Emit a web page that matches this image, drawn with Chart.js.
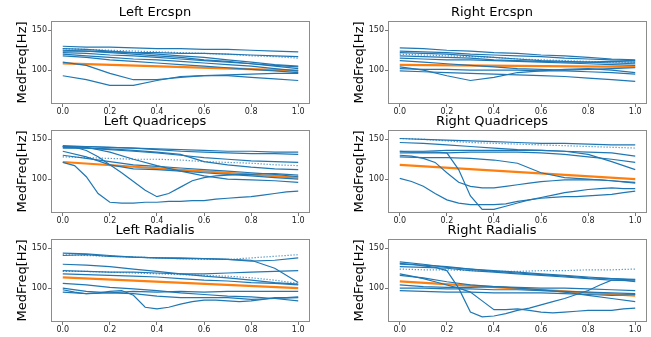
<!DOCTYPE html>
<html><head><meta charset="utf-8">
<script src="https://cdn.jsdelivr.net/npm/chart.js@4/dist/chart.umd.min.js"></script>
<style>
html,body{margin:0;padding:0;background:#fff;width:651px;height:337px;overflow:hidden;position:relative}
.cell{position:absolute}
</style></head><body>
<script>
// ---- data ----
const X11 = [0,0.1,0.2,0.3,0.4,0.5,0.6,0.7,0.8,0.9,1.0];
const X21 = [0,0.05,0.1,0.15,0.2,0.25,0.3,0.35,0.4,0.45,0.5,0.55,0.6,0.65,0.7,0.75,0.8,0.85,0.9,0.95,1.0];
const XFIT = [0,1];
const XTICKS = [0,0.2,0.4,0.6,0.8,1.0];
const YTICKS = [100,150];
const TITLES = ['Left Ercspn','Right Ercspn','Left Quadriceps','Right Quadriceps','Left Radialis','Right Radialis'];
const YLABEL = 'MedFreq[Hz]';

const leftErcspn = [
  [130,129,129,128,127,127,126,126,125,124,123],
  [127,126,124,122,120,118,116,113,110,107,105],
  [125,124,122,120,118,116,113,111,108,105,102],
  [122,121,119,118,116,114,112,110,108,106,104],
  [120,118,116,114,113,111,109,107,105,102,99],
  [124,124,123,122,122,121,121,120,119,118,117],
  [118,116,113,111,109,107,105,103,101,99,97],
  [110,106,96,88,88,91,93,94,95,96,96],
  [93,88,81,81,87,92,93,93,91,89,87]
];
const leftErcspnDotted = [127,126,125,124,123,122,121,120,118,117,115];
const leftErcspnFit = [108.5,99.5];

const rightErcspn = [
  [128,127,125,124,122,121,119,118,116,114,113],
  [124,123,122,120,119,118,117,115,114,113,112],
  [122,121,120,118,116,114,112,111,110,109,108],
  [118,117,116,115,113,112,111,110,110,111,110],
  [115,114,113,113,112,111,110,109,108,107,106],
  [104,100,93,87,91,97,99,101,102,100,97],
  [99,98,97,96,95,94,93,92,90,88,86],
  [102,101,101,100,100,100,99,99,98,97,95],
  [112,110,108,106,104,102,101,100,101,102,103]
];
const rightErcspnDotted = [120,119,118,117,116,114,113,112,111,110,110];
const rightErcspnFit = [106.5,104];

const leftQuadriceps = [
  [142,141,140,139,138,137,136,135,135,134,134],
  [141,141,140,139,137,135,134,133,132,132,131],
  [140,139,137,135,133,130,127,125,123,122,121],
  [139,139,138,136,134,131,122,118,115,113,112],
  [141,140,134,125,117,110,104,100,99,98,96],
  [135,128,118,113,112,110,108,106,104,102,100],
  [130,126,122,118,116,114,112,110,108,106,103]
];
const leftQuadricepsFine = [
  [141,140,136,128,118,108,97,86,78,82,90,98,102,104,105,106,106,107,107,106,105],
  [121,117,103,82,71,70,70,71,71,72,72,73,73,75,76,77,78,80,82,84,85]
];
const leftQuadricepsDotted = [128,127,126,125,125,124,122,121,120,118,117];
const leftQuadricepsFit = [121.5,102];

const rightQuadriceps = [
  [151,150,149,148,147,146,145,145,144,143,143],
  [146,145,143,141,139,137,136,135,134,133,129],
  [135,135,136,136,136,136,136,135,131,122,112],
  [133,133,133,134,134,134,133,131,128,125,121],
  [128,127,127,126,124,120,108,102,100,98,95]
];
const rightQuadricepsFine = [
  [130,129,126,121,108,96,91,89,89,91,93,95,97,98,99,99,99,99,98,97,96],
  [135,134,134,134,133,112,79,62,62,66,70,74,77,80,83,85,87,88,89,88,88],
  [101,97,91,82,74,70,68,68,68,69,72,74,76,77,78,78,79,80,81,83,85]
];
const rightQuadricepsDotted = [151,150,148,146,145,144,143,142,141,140,139];
const rightQuadricepsFit = [118,100];

const leftRadialis = [
  [144,143,141,139,138,138,137,136,134,135,138],
  [141,142,140,139,138,137,137,136,135,125,107],
  [122,121,120,120,119,118,118,119,120,121,122],
  [130,129,127,124,121,118,115,113,110,107,105],
  [118,117,116,115,114,112,110,109,107,106,104],
  [95,93,94,96,95,96,95,96,96,96,96],
  [106,104,101,99,97,94,92,90,89,87,84],
  [100,96,94,93,90,88,88,88,86,87,88]
];
const leftRadialisFine = [
  [98,95,93,94,96,97,91,76,74,76,80,83,85,85,84,83,84,86,88,88,89]
];
const leftRadialisDotted = [142,141,140,139,138,137,136,136,138,140,142];
const leftRadialisDotted2 = [121,121,120,119,118,117,116,115,113,110,106];
const leftRadialisFit = [113.5,100];

const rightRadialis = [
  [133,130,126,124,122,120,118,116,114,112,110],
  [130,129,127,124,121,119,117,115,113,112,111],
  [127,126,125,122,120,118,116,114,112,110,109],
  [104,102,101,101,102,101,100,100,99,98,97],
  [100,100,99,99,98,98,97,96,95,94,93],
  [97,96,95,95,94,94,94,93,92,91,92],
  [116,113,108,104,102,100,98,95,91,87,83]
];
const rightRadialisFine = [
  [131,130,128,126,122,100,70,64,65,68,72,75,79,83,87,92,97,104,110,110,108],
  [118,115,112,108,104,100,95,84,73,73,74,72,70,69,70,71,72,72,72,74,75]
];
const rightRadialisDotted = [124,123,123,122,121,121,122,122,123,123,124];
const rightRadialisFit = [108.5,90.7];

const PANELS = [
  {solid:leftErcspn, fine:[], dotted:[leftErcspnDotted], fit:leftErcspnFit},
  {solid:rightErcspn, fine:[], dotted:[rightErcspnDotted], fit:rightErcspnFit},
  {solid:leftQuadriceps, fine:leftQuadricepsFine, dotted:[leftQuadricepsDotted], fit:leftQuadricepsFit},
  {solid:rightQuadriceps, fine:rightQuadricepsFine, dotted:[rightQuadricepsDotted], fit:rightQuadricepsFit},
  {solid:leftRadialis, fine:leftRadialisFine, dotted:[leftRadialisDotted,leftRadialisDotted2], fit:leftRadialisFit},
  {solid:rightRadialis, fine:rightRadialisFine, dotted:[rightRadialisDotted], fit:rightRadialisFit}
];

// ---- drawing ----
const BLUE = '#1f77b4', ORANGE = '#ff7f0e', FONT = "'DejaVu Sans', sans-serif";
const pts = (xs, ys) => ys.map((y,i)=>({x:xs[i], y}));

const frame = {
  id:'frame',
  afterDraw(c){
    const a = c.chartArea, ctx = c.ctx;
    ctx.save(); ctx.strokeStyle = '#8c8c8c'; ctx.lineWidth = 1;
    ctx.strokeRect(Math.round(a.left)+0.5, Math.round(a.top)+0.5, Math.round(a.right-a.left)-1, Math.round(a.bottom-a.top)-1);
    ctx.restore();
  }
};

PANELS.forEach((p, k) => {
  const col = k % 2, row = Math.floor(k / 2);
  const left = col === 0 ? 0 : 337;
  const width = col === 0 ? 320 : 314;
  const top = [0,109,218][row];
  const height = 122;
  const div = document.createElement('div');
  div.className = 'cell';
  div.style.left = left + 'px'; div.style.top = top + 'px';
  div.style.width = width + 'px'; div.style.height = height + 'px';
  const cv = document.createElement('canvas');
  cv.width = width; cv.height = height;
  div.appendChild(cv); document.body.appendChild(div);

  const ds = [];
  p.solid.forEach((ys, i) => ds.push({data:pts(X11, ys), borderColor:BLUE, borderWidth:1.2}));
  p.fine.forEach(ys => ds.push({data:pts(X21, ys), borderColor:BLUE, borderWidth:1.2}));
  p.dotted.forEach(ys => ds.push({data:pts(X11, ys), borderColor:BLUE, borderWidth:1.2, borderDash:[1,2]}));
  ds.push({data:pts(XFIT, p.fit), borderColor:ORANGE, borderWidth:2.2});

  new Chart(cv, {
    type:'line',
    data:{datasets:ds.map(d => Object.assign({pointRadius:0, tension:0, fill:false}, d))},
    options:{
      responsive:false, animation:false, devicePixelRatio:1,
      layout:{padding:{left:0, right:width-310, top:0, bottom:0}},
      plugins:{
        legend:{display:false}, tooltip:{enabled:false},
        title:{display:true, text:TITLES[k], color:'#000',
               font:{family:FONT, size:13, weight:'normal', lineHeight:1}, padding:{top:6, bottom:2}}
      },
      scales:{
        x:{type:'linear', min:-0.05, max:1.05,
           afterBuildTicks:s => { s.ticks = XTICKS.map(v => ({value:v})); },
           afterFit:s => { s.height = height - 104; },
           ticks:{font:{family:FONT, size:8}, color:'#222', padding:0, maxRotation:0,
                  callback:v => Number(v).toFixed(1)},
           grid:{drawOnChartArea:false, drawTicks:true, tickLength:3, color:'#777'},
           border:{display:false}},
        y:{type:'linear', min:57.5, max:161.7,
           afterBuildTicks:s => { s.ticks = YTICKS.map(v => ({value:v})); },
           afterFit:s => { s.width = 51; },
           ticks:{font:{family:FONT, size:8}, color:'#222', padding:1},
           grid:{drawOnChartArea:false, drawTicks:true, tickLength:3, color:'#777'},
           border:{display:false},
           title:{display:true, text:YLABEL, color:'#000', font:{family:FONT, size:13}, padding:{top:15, bottom:4}}}
      }
    },
    plugins:[frame]
  });
});
</script>
</body></html>
